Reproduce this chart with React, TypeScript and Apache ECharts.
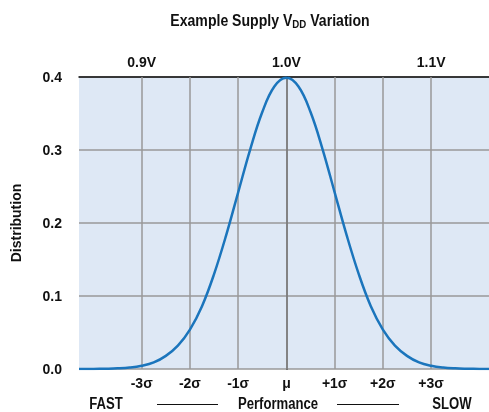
import React, { useEffect, useRef } from "react";
import * as echarts from "echarts";

const FONT = '"Liberation Sans Narrow", "Arial Narrow", "Liberation Sans", sans-serif';

// sigma positions and distribution values
const sigmaX = [-4.3, -4, -3.75, -3.5, -3.25, -3, -2.75, -2.5, -2.25, -2, -1.75, -1.5, -1.25, -1, -0.75, -0.5, -0.25, 0, 0.25, 0.5, 0.75, 1, 1.25, 1.5, 1.75, 2, 2.25, 2.5, 2.75, 3, 3.25, 3.5, 3.75, 4, 4.2];
const distribution = [0.0, 0.0001, 0.0004, 0.0009, 0.002, 0.0044, 0.009, 0.018, 0.032, 0.054, 0.086, 0.13, 0.183, 0.242, 0.301, 0.352, 0.387, 0.399, 0.387, 0.352, 0.301, 0.242, 0.183, 0.13, 0.086, 0.054, 0.032, 0.018, 0.009, 0.0044, 0.002, 0.0009, 0.0004, 0.0001, 0.0];

const gridSigmas = [-3, -2, -1, 0, 1, 2, 3];
const sigmaLabels = ["-3σ", "-2σ", "-1σ", "μ", "+1σ", "+2σ", "+3σ"];
const voltSigmas = [-3, 0, 3];
const voltLabels = ["0.9V", "1.0V", "1.1V"];

export default function App() {
  const ref = useRef<HTMLDivElement>(null);
  useEffect(() => {
    const chart = echarts.init(ref.current!, undefined, { renderer: "svg" });
    const labelStyle = { fontFamily: FONT, fontWeight: "bold" as const, fontSize: 14, color: "#111" };
    const bottomText = (text: string, cx: number) => ({
      type: "text",
      x: cx,
      y: 412,
      scaleX: 0.82,
      style: {
        text,
        font: `bold 16px ${FONT}`,
        fill: "#111",
        align: "center",
        verticalAlign: "bottom",
      },
    });
    chart.setOption({
      animation: false,
      grid: {
        left: 79,
        top: 77,
        right: 0,
        bottom: 43,
        show: true,
        backgroundColor: "#dee8f5",
        borderWidth: 0,
      },
      xAxis: [
        {
          type: "value",
          min: -4.3,
          max: 4.2,
          position: "bottom",
          axisLine: { show: false },
          axisTick: { show: false },
          splitLine: { show: false },
          axisLabel: {
            customValues: gridSigmas,
            formatter: (v: number) => sigmaLabels[gridSigmas.indexOf(Math.round(v))] ?? "",
            margin: 7,
            ...labelStyle,
          },
        },
        {
          type: "value",
          min: -4.3,
          max: 4.2,
          position: "top",
          axisLine: { show: true, onZero: false, lineStyle: { color: "#111", width: 1.5 } },
          axisTick: { show: false },
          splitLine: { show: false },
          axisLabel: {
            customValues: voltSigmas,
            formatter: (v: number) => voltLabels[voltSigmas.indexOf(Math.round(v))] ?? "",
            margin: 8,
            ...labelStyle,
          },
        },
      ],
      yAxis: {
        type: "value",
        min: 0,
        max: 0.4,
        interval: 0.1,
        name: "Distribution",
        nameLocation: "middle",
        nameRotate: 90,
        nameGap: 56,
        nameTextStyle: { fontFamily: FONT, fontWeight: "bold", fontSize: 14, color: "#111" },
        axisLine: { show: true, lineStyle: { color: "#111", width: 1.5 } },
        axisTick: { show: false },
        splitLine: { show: true, lineStyle: { color: "#999", width: 1.5 } },
        axisLabel: {
          formatter: (v: number) => v.toFixed(1),
          margin: 17,
          ...labelStyle,
        },
      },
      series: [
        {
          type: "line",
          data: sigmaX.map((x, i) => [x, distribution[i]]),
          smooth: 0.4,
          showSymbol: false,
          lineStyle: { color: "#1b75bc", width: 2.5 },
          z: 5,
          markLine: {
            silent: true,
            symbol: "none",
            label: { show: false },
            lineStyle: { color: "#999", width: 1.5, type: "solid" },
            data: gridSigmas.map((s) => ({ xAxis: s })),
            z: 1,
          },
        },
      ],
      graphic: [
        {
          type: "text",
          x: 270,
          y: 20,
          scaleX: 0.88,
          style: {
            text: "{a|Example Supply V}{s|DD}{a| Variation}",
            align: "center",
            verticalAlign: "middle",
            rich: {
              a: { font: `bold 16px ${FONT}`, fill: "#111", lineHeight: 20 },
              s: { font: `bold 11px ${FONT}`, fill: "#111", lineHeight: 20, padding: [9, 0, 0, 0] },
            },
          },
        },
        bottomText("FAST", 106),
        bottomText("Performance", 278),
        bottomText("SLOW", 452),
        { type: "line", shape: { x1: 157, y1: 404.5, x2: 218, y2: 404.5 }, style: { stroke: "#111", lineWidth: 1 } },
        { type: "line", shape: { x1: 337, y1: 404.5, x2: 399, y2: 404.5 }, style: { stroke: "#111", lineWidth: 1 } },
      ],
    });
    return () => chart.dispose();
  }, []);
  return <div ref={ref} style={{ position: "fixed", left: 0, top: 0, width: 489, height: 412 }} />;
}
